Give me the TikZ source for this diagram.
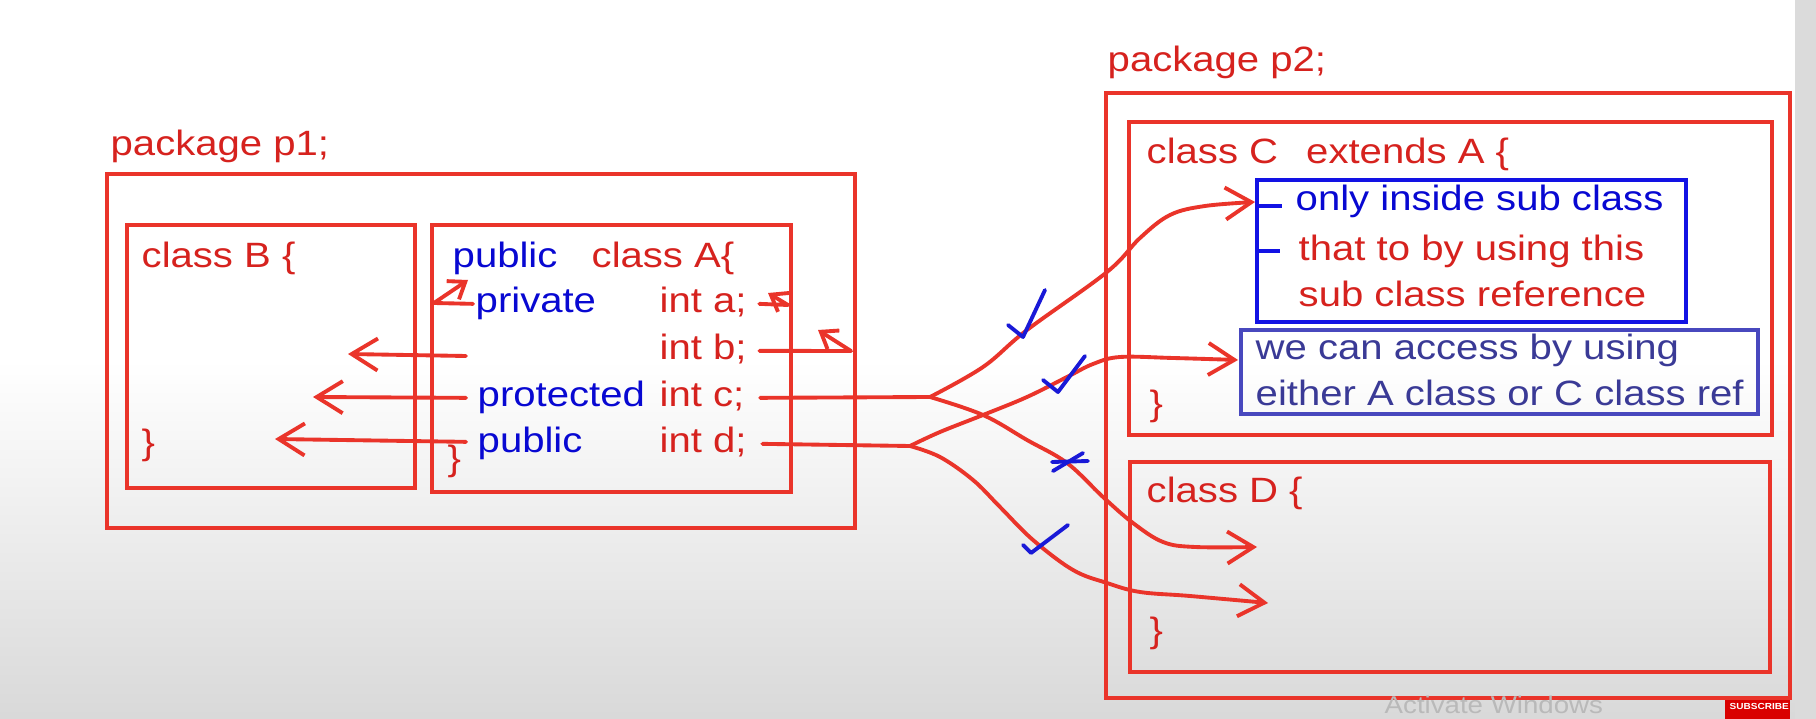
\documentclass[tikz,border=0pt]{standalone}
\usepackage{fontspec}
\setmainfont{Liberation Sans}[FakeStretch=1.14]
\usetikzlibrary{arrows.meta,calc}

\definecolor{boxred}{RGB}{234,52,42}
\definecolor{txtred}{RGB}{214,34,30}
\definecolor{txtblue}{RGB}{8,8,210}
\definecolor{boxblue}{RGB}{18,18,228}
\definecolor{slate}{RGB}{72,72,190}
\definecolor{slatetxt}{RGB}{58,58,150}
\definecolor{tickblue}{RGB}{25,25,215}

\tikzset{
  every node/.style={inner sep=0pt, anchor=base west, font=\fontsize{10}{12}\selectfont, text height=0.72em, text depth=0.2em},
  redtxt/.style={text=txtred},
  bluetxt/.style={text=txtblue},
  redbox/.style={draw=boxred, line width=1.15pt},
  pen/.style={draw=boxred, line width=1.1pt, line cap=round, line join=round},
  penarr/.style={pen, -{Straight Barb[length=2.6mm,width=3.2mm]}},
  smallarr/.style={pen, -{Straight Barb[length=1.5mm,width=2.2mm]}},
  tickmark/.style={draw=tickblue, line width=1.1pt, line cap=round, line join=round},
}

\begin{document}
\begin{tikzpicture}[x=0.01cm,y=-0.01cm]
\useasboundingbox (0,0) rectangle (1816,719);

\fill[white] (0,0) rectangle (1816,719);
\shade[top color=white, bottom color=gray!30] (0,360) rectangle (1816,719);
\fill[gray!28] (1795,0) rectangle (1816,719);

% package p1
\node[redtxt] (pkgone) at (110,156) {package p1;};
\draw[redbox] (107,174) rectangle (855,528);
\draw[redbox] (127,225) rectangle (415,488);
\draw[redbox] (432,225) rectangle (791,492);

\node[redtxt] (clsB) at (141,268) {class B \{};
\node[redtxt] (clsBend) at (141,455) {\}};

\node[bluetxt] (pubA) at (452,268) {public};
\node[redtxt] (clsA) at (591,268) {class A\{};
\node[bluetxt] (priv) at (475,313) {private};
\node[redtxt] (inta) at (659,313) {int a;};
\node[redtxt] (intb) at (659,360) {int b;};
\node[bluetxt] (prot) at (477,407) {protected};
\node[redtxt] (intc) at (659,407) {int c;};
\node[bluetxt] (pubd) at (477,453) {public};
\node[redtxt] (intd) at (659,453) {int d;};
\node[redtxt] (clsAend) at (447,471) {\}};

% package p2
\node[redtxt] (pkgtwo) at (1107,72) {package p2;};
\draw[redbox] (1106,93) rectangle (1790,698);
\draw[redbox] (1129,122) rectangle (1772,435);
\node[redtxt] (clsC) at (1146,164) {class C\hspace{0.8em}extends A \{};

\draw[boxblue, line width=1.15pt] (1257,180) rectangle (1686,322);
\draw[boxblue, line width=1.4pt] (1259,206) -- (1282,206);
\draw[boxblue, line width=1.4pt] (1259,251) -- (1280,251);
\node[bluetxt] (onlyin) at (1295,211) {only inside sub class};
\node[redtxt] (thatto) at (1298,261) {that to by using this};
\node[redtxt] (subref) at (1298,307) {sub class reference};

\draw[slate, line width=1pt] (1241,330) rectangle (1758,414);
\node[text=slatetxt] (weacc) at (1255,360) {we can access by using};
\node[text=slatetxt] (either) at (1255,406) {either A class or C class ref};
\node[redtxt] (clsCend) at (1149,416) {\}};

\draw[redbox] (1130,462) rectangle (1770,672);
\node[redtxt] (clsD) at (1146,502) {class D \{};
\node[redtxt] (clsDend) at (1149,642) {\}};

% inside p1
\coordinate (fromb) at (466,356);
\coordinate (tipb) at (348,354);
\coordinate (tipc) at (313,397);
\coordinate (tipd) at (275,439);
\draw[penarr] (fromb) -- (tipb);
\draw[penarr] ($(prot.west)+(-11,0)$) -- (tipc);
\draw[penarr] ($(pubd.west)+(-11,-2)$) -- (tipd);

\coordinate (hook) at (434,303);
\coordinate (hooktip) at (468,280);
\draw[smallarr] ($(priv.west)+(-2,0)$) -- (hook) -- (hooktip);

\coordinate (acorner) at (788,305);
\coordinate (atip) at (768,293);
\draw[smallarr] ($(inta.east)+(12,0)$) -- (acorner) -- (atip);

\coordinate (bcorner) at (851,351);
\coordinate (btip) at (818,330);
\draw[smallarr] ($(intb.east)+(12,0)$) -- (bcorner) -- (btip);

% to package p2
\coordinate (forkc) at (930,397);
\coordinate (forkd) at (910,446);
\draw[pen] ($(intc.east)+(15,0)$) -- (forkc);
\draw[pen] ($(intd.east)+(15,0)$) -- (forkd);

\draw[penarr] plot[smooth, tension=0.6] coordinates {(forkc) (983,367) (1027,330) (1107,272) (1140,238) (1170,215) (1205,206) (1255,202)};
\draw[penarr] plot[smooth, tension=0.6] coordinates {(forkc) (983,415) (1027,440) (1067,463) (1103,497) (1133,523) (1163,542) (1195,547) (1257,547)};
\draw[penarr] plot[smooth, tension=0.6] coordinates {(forkd) (940,432) (983,415) (1027,397) (1067,377) (1093,364) (1120,357) (1173,358) (1238,360)};
\draw[penarr] plot[smooth, tension=0.6] coordinates {(forkd) (940,457) (973,480) (1000,507) (1033,540) (1073,570) (1107,583) (1140,592) (1190,596) (1268,603)};

\draw[tickmark] (1008,325) -- (1023,337) -- (1045,290);
\draw[tickmark] (1043,380) -- (1058,392) -- (1085,356);
\draw[tickmark] (1052,462) -- (1088,461);
\draw[tickmark] (1053,471) -- (1083,453);
\draw[tickmark] (1023,545) -- (1031,553) -- (1068,525);

\node[text=gray!55, font=\fontsize{6.9}{8}\selectfont] (actwin) at (1384,713) {Activate Windows};
\fill[red!85!black] (1725,700) rectangle (1790,719);
\node[text=white, font=\bfseries\fontsize{2.5}{3}\selectfont] (subscr) at (1729,709) {SUBSCRIBE};

\end{tikzpicture}
\end{document}
